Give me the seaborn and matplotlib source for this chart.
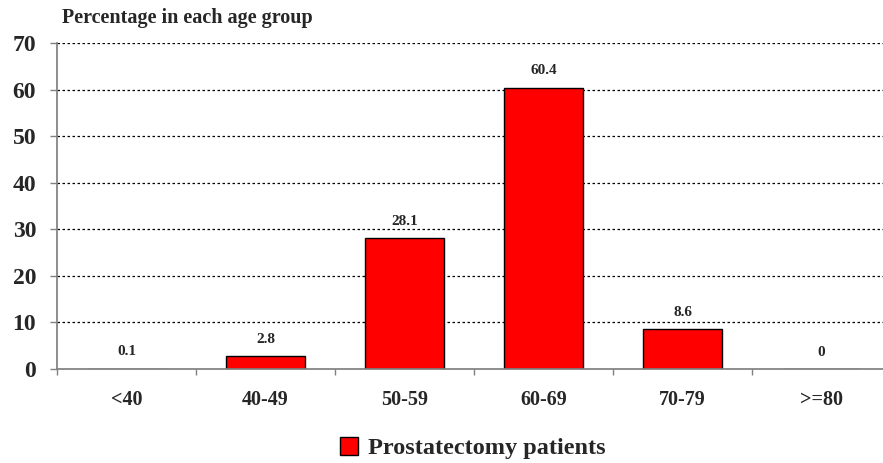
import matplotlib
matplotlib.use("Agg")
import matplotlib.pyplot as plt
import seaborn as sns
import pandas as pd
from matplotlib.patches import Patch

age_groups = ["<40", "40-49", "50-59", "60-69", "70-79", ">=80"]
percentages = [0.1, 2.8, 28.1, 60.4, 8.6, 0]
value_labels = ["0.1", "2.8", "28.1", "60.4", "8.6", "0"]
series_name = "Prostatectomy patients"

sns.set_theme(style="white")
plt.rcParams['font.family'] = ['Liberation Serif', 'DejaVu Serif']
plt.rcParams['font.weight'] = 'bold'

df = pd.DataFrame({"age": age_groups, "pct": percentages})

fig = plt.figure(figsize=(8.83, 4.63), dpi=100)
# axes runs slightly past the right edge, as in the reference
ax = fig.add_axes([57 / 883, 1 - 369 / 463, 834 / 883, 326 / 463])

sns.barplot(data=df, x="age", y="pct", color="#ff0000", edgecolor="black",
            linewidth=1, width=0.57, saturation=1, ax=ax)

ax.set_ylim(0, 70)
ax.set_xlim(-0.5, len(age_groups) - 0.5)
ax.set_yticks(range(0, 71, 10))
for y in range(10, 71, 10):
    ax.axhline(y, color="black", linestyle=(0, (2, 2)), linewidth=0.9, zorder=0)

for i, (v, lab) in enumerate(zip(percentages, value_labels)):
    ax.text(i, v + 2.2, lab, ha="center", va="bottom", fontsize=11, fontweight="bold")

ax.set_xlabel("")
ax.set_ylabel("")
ax.tick_params(axis="y", labelsize=17, length=5, width=1, color="#808080", direction="out", left=True, pad=10)
ax.set_xticks(range(len(age_groups)))
ax.set_xticklabels(age_groups, fontsize=14.5, fontweight="bold")
ax.tick_params(axis="x", length=0, pad=15)
for t in ax.get_yticklabels():
    t.set_fontweight("bold")
# boundary ticks between categories
ax.set_xticks([i + 0.5 for i in range(-1, len(age_groups))], minor=True)
ax.tick_params(axis="x", which="minor", length=4.5, width=1, color="#808080", direction="out", bottom=True)

for s in ["top", "right"]:
    ax.spines[s].set_visible(False)
ax.spines["left"].set_color("#808080")
ax.spines["bottom"].set_color("#808080")

fig.text(62 / 883, 1 - 18 / 463, "Percentage in each age group", fontsize=14.5,
         fontweight="bold", va="center", ha="left")

fig.legend(handles=[Patch(facecolor="#ff0000", edgecolor="black", label=series_name)],
           loc="center", bbox_to_anchor=(473 / 883, 1 - 448 / 463), frameon=False,
           prop={"size": 17.5, "weight": "bold"}, handlelength=0.75, handleheight=0.75,
           handletextpad=0.4)

fig.savefig("out.png", dpi=100)
